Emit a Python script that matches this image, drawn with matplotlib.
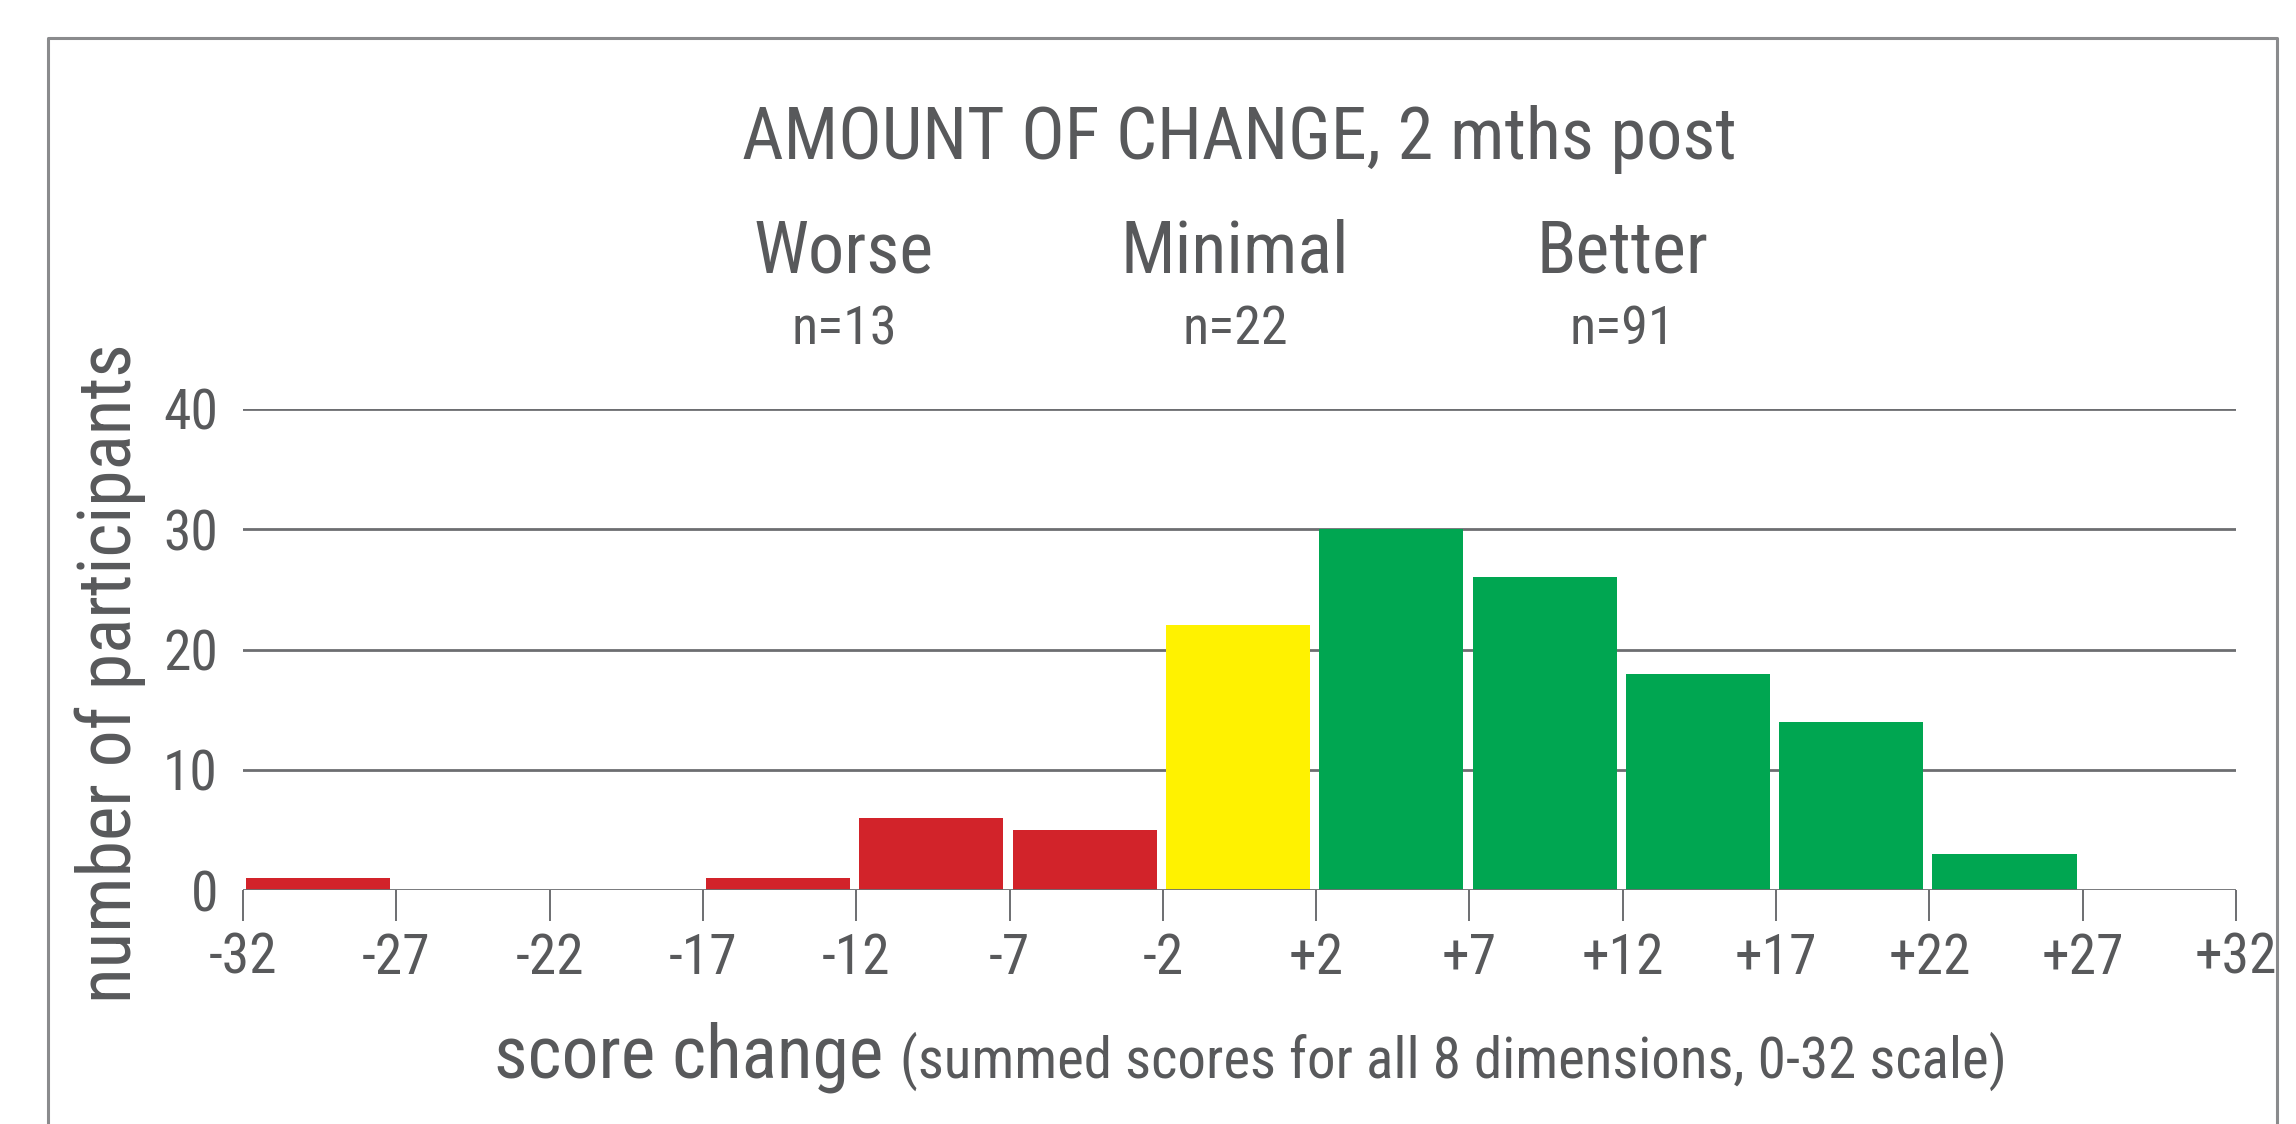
import matplotlib
matplotlib.use('Agg')
import matplotlib.pyplot as plt
from matplotlib import font_manager
from matplotlib.lines import Line2D
import numpy as np

# data
tick_labels = ['-32', '-27', '-22', '-17', '-12', '-7', '-2',
               '+2', '+7', '+12', '+17', '+22', '+27', '+32']
counts = [1, 0, 0, 1, 6, 5, 22, 30, 26, 18, 14, 3, 0]
groups = ['worse'] * 6 + ['minimal'] + ['better'] * 6
group_names = ['Worse', 'Minimal', 'Better']
group_n = [13, 22, 91]
yticks = [0, 10, 20, 30, 40]

grey = '#58595B'
line_grey = '#6D6E71'
colors = {'worse': '#D2232A', 'minimal': '#FFF200', 'better': '#00A651'}

# pick a narrow sans close to Helvetica Condensed
have = set(f.name for f in font_manager.fontManager.ttflist)
wanted = ['Roboto Condensed', 'Liberation Sans Narrow', 'Archivo Narrow',
          'PT Sans Narrow', 'Sofia Sans Condensed']
narrow = [f for f in wanted if f in have][:1]
plt.rcParams['font.family'] = narrow + ['DejaVu Sans']

W, H = 2296, 1124
fig = plt.figure(figsize=(W / 100, H / 100), dpi=100)
ax = fig.add_axes([243 / W, 1 - 890 / H, (2236 - 243) / W, (890 - 409) / H])

x = np.arange(len(counts))
ax.bar(x + 0.02, counts, width=0.94, align='edge',
       color=[colors[g] for g in groups], zorder=3)

ax.set_xlim(0, len(tick_labels) - 1)
ax.set_ylim(0, 40)
ax.set_xticks(np.arange(len(tick_labels)))
ax.set_xticklabels(tick_labels)
ax.set_yticks(yticks)
ax.tick_params(axis='x', length=22, width=1.4, color=line_grey, pad=8,
               labelsize=40, labelcolor=grey)
ax.tick_params(axis='y', length=0, pad=18, labelsize=40, labelcolor=grey)
for s in ax.spines.values():
    s.set_visible(False)
for v in yticks:
    ax.axhline(v, color=line_grey, lw=2.0, zorder=2 if v else 4)

# headings above the plot
ax.text(6.5, 62.4, 'AMOUNT OF CHANGE, 2 mths post', ha='center', va='center',
        fontsize=52, color=grey, clip_on=False)
for xc, name, n in zip([3.92, 6.47, 9.0], group_names, group_n):
    ax.text(xc, 53.0, name, ha='center', va='center', fontsize=52,
            color=grey, clip_on=False)
    ax.text(xc, 46.6, 'n=%d' % n, ha='center', va='center', fontsize=39,
            color=grey, clip_on=False)

fig.text(110 / W, 1 - 673 / H, 'number of participants', rotation=90,
         ha='center', va='center', fontsize=53, color=grey)
fig.text(883 / W, 1 - 1078 / H, 'score change', ha='right', va='baseline',
         fontsize=53, color=grey)
fig.text(900 / W, 1 - 1078 / H,
         '(summed scores for all 8 dimensions, 0-32 scale)',
         ha='left', va='baseline', fontsize=41, color=grey)

# open frame around the figure (bottom is cut off)
fx = [48 / W, 48 / W, 2277 / W, 2277 / W]
fy = [0, 1 - 38 / H, 1 - 38 / H, 0]
fig.add_artist(Line2D(fx, fy, transform=fig.transFigure, color='#8A8B8D', lw=2.2))

fig.savefig('out.png', dpi=100)
